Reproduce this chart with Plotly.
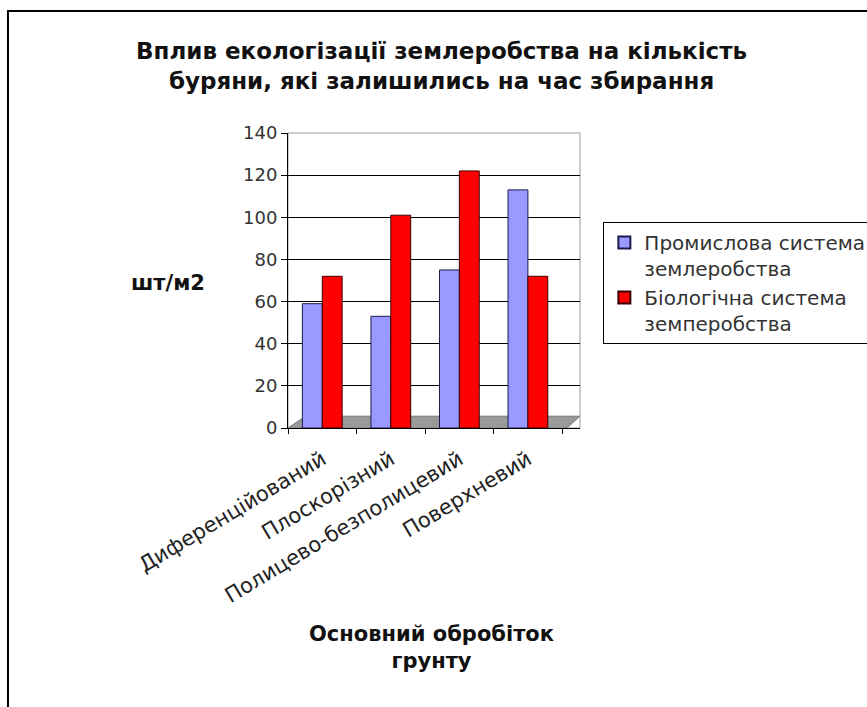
import plotly.graph_objects as go

categories = ["Диференційований", "Плоскорізний", "Полицево-безполицевий", "Поверхневий"]
industrial = [59, 53, 75, 113]
biological = [72, 101, 122, 72]
series_names = ["Промислова система<br>землеробства", "Біологічна система<br>земперобства"]
y_ticks = [0, 20, 40, 60, 80, 100, 120, 140]

FONT = "DejaVu Sans"

fig = go.Figure()
fig.add_trace(go.Bar(x=categories, y=industrial, name=series_names[0],
                     marker=dict(color="#9999FF", line=dict(color="#1a1a4a", width=1))))
fig.add_trace(go.Bar(x=categories, y=biological, name=series_names[1],
                     marker=dict(color="#FF0000", line=dict(color="#3a0000", width=1))))

fig.update_layout(
    width=867, height=707,
    margin=dict(l=288, r=287, t=133, b=279, autoexpand=False),
    paper_bgcolor="white", plot_bgcolor="white",
    barmode="group", bargap=0.42, bargroupgap=0.0,
    font=dict(family=FONT, color="#222222"),
    showlegend=True,
    legend=dict(x=1.08, y=0.698, xanchor="left", yanchor="top",
                bordercolor="#000000", borderwidth=1, bgcolor="white",
                font=dict(family=FONT, size=20, color="#333333"),
                itemsizing="constant", valign="top", itemwidth=30),
    xaxis=dict(range=[-0.5, 3.76], showgrid=False, showline=True, linecolor="#000000",
               linewidth=1, ticks="outside", tickson="boundaries", ticklen=5,
               tickcolor="#000000", tickangle=-31, ticklabelstandoff=10,
               tickfont=dict(family=FONT, size=21, color="#222222")),
    yaxis=dict(range=[0, 140], tickvals=y_ticks, showgrid=True, gridcolor="#000000",
               gridwidth=1, showline=True, linecolor="#000000", linewidth=1,
               ticks="outside", ticklen=6, tickcolor="#000000", zeroline=False,
               tickfont=dict(family=FONT, size=18, color="#333333")),
    annotations=[
        dict(text="<b>Вплив екологізації землеробства на кількість<br>буряни, які залишились на час збирання</b>",
             xref="paper", yref="paper", x=0.527, y=1.227, xanchor="center", yanchor="middle",
             showarrow=False, font=dict(family=FONT, size=23, color="#111111"),
             align="center"),
        dict(text="<b>шт/м2</b>", xref="paper", yref="paper", x=-0.41, y=0.49,
             xanchor="center", yanchor="middle", showarrow=False,
             font=dict(family=FONT, size=21, color="#111111")),
        dict(text="<b>Основний обробіток<br>грунту</b>", xref="paper", yref="paper",
             x=0.49, y=-0.745, xanchor="center", yanchor="middle", showarrow=False,
             font=dict(family=FONT, size=21, color="#111111"), align="center"),
    ],
    shapes=[
        dict(type="path", xref="x domain", yref="y domain", layer="below",
             path="M 0,0 L 0.955,0 L 1,0.04 L 0.06,0.04 Z",
             fillcolor="#9a9a9a", line=dict(color="#777777", width=1)),
        dict(type="rect", xref="x domain", yref="y domain", x0=0, x1=1, y0=0, y1=1,
             line=dict(color="#999999", width=1), layer="below"),
        dict(type="rect", xref="paper", yref="paper", x0=-0.959, x1=2.0, y0=-1.2, y1=1.4136,
             line=dict(color="#000000", width=2), fillcolor="rgba(0,0,0,0)"),
    ],
)

fig.write_html("out.html")
